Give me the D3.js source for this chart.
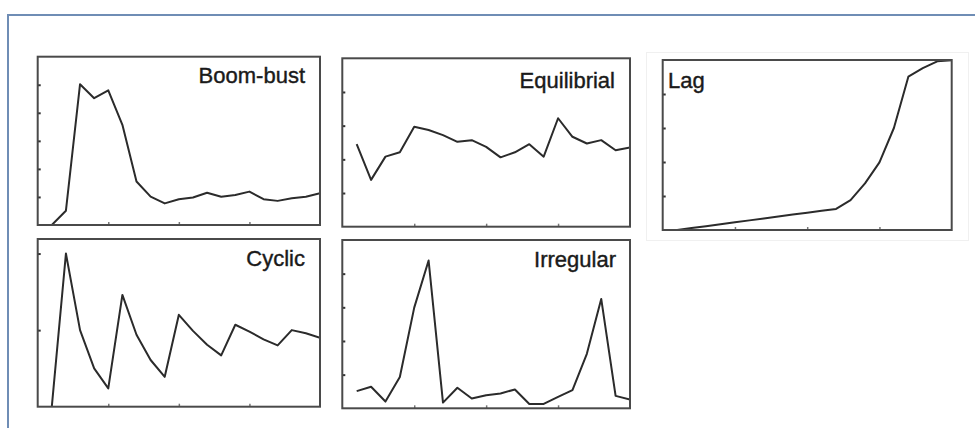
<!DOCTYPE html>
<html><head><meta charset="utf-8">
<script src="https://cdn.jsdelivr.net/npm/d3@7"></script>
<style>body{margin:0;background:#fff}svg{display:block}</style>
</head><body>
<script>
const xIndex = d3.range(1, 21);
const boomBust = [0, 0.51, 5.02, 4.52, 4.8, 3.57, 1.55, 1.01, 0.77, 0.92, 0.98, 1.15, 1.01, 1.07, 1.19, 0.92, 0.86, 0.95, 1.01, 1.13];
const equilibrial = [2.45, 1.39, 2.08, 2.21, 2.97, 2.87, 2.72, 2.52, 2.57, 2.37, 2.06, 2.21, 2.45, 2.08, 3.22, 2.67, 2.47, 2.57, 2.27, 2.35];
const lag = [0, 0.056, 0.113, 0.17, 0.226, 0.283, 0.34, 0.396, 0.453, 0.51, 0.566, 0.62, 0.88, 1.37, 1.99, 3.0, 4.51, 4.76, 4.96, 4.99];
const cyclic = [0, 2.0, 1.0, 0.5, 0.24, 1.46, 0.94, 0.61, 0.39, 1.2, 0.99, 0.81, 0.67, 1.07, 0.98, 0.88, 0.8, 1.0, 0.96, 0.9];
const irregular = [0.51, 0.64, 0.2, 0.93, 2.99, 4.39, 0.17, 0.61, 0.29, 0.39, 0.44, 0.56, 0.13, 0.13, 0.34, 0.54, 1.62, 3.25, 0.37, 0.26];
const panelNames = ["Boom-bust", "Equilibrial", "Lag", "Cyclic", "Irregular"];
const xTicks = [5, 10, 15];
const yTicksPerPanel = [[1,2,3,4,5],[1,2,3,4],[1,2,3,4],[1,2],[1,2,3,4]];
const yMax = [6, 5, 5, 2.19, 5];

const W = 975, H = 428;
const svg = d3.select("body").append("svg").attr("width", W).attr("height", H);

// outer frame (top and left edges only)
svg.append("line").attr("x1", 8).attr("x2", W).attr("y1", 15).attr("y2", 15)
  .attr("stroke", "#6f8db5").attr("stroke-width", 2);
svg.append("line").attr("x1", 8).attr("x2", 8).attr("y1", 14).attr("y2", H)
  .attr("stroke", "#6f8db5").attr("stroke-width", 2);
// faint frame around the Lag panel
svg.append("rect").attr("x", 646.5).attr("y", 52.5).attr("width", 322).attr("height", 188)
  .attr("fill", "none").attr("stroke", "#f0f0f0").attr("stroke-width", 1);

const boxes = [
  {x0: 37.7, x1: 320, y0: 56.7, y1: 225, lx: 305, ly: 83, anchor: "end"},
  {x0: 342.3, x1: 630, y0: 58.3, y1: 226.7, lx: 615, ly: 88, anchor: "end"},
  {x0: 662.7, x1: 951.7, y0: 60, y1: 230, lx: 668, ly: 88, anchor: "start"},
  {x0: 37.7, x1: 320, y0: 239, y1: 406.7, lx: 305, ly: 265.5, anchor: "end"},
  {x0: 342.3, x1: 630, y0: 240, y1: 408.3, lx: 616, ly: 267, anchor: "end"}
];
const series = [boomBust, equilibrial, lag, cyclic, irregular];

boxes.forEach((b, i) => {
  const x = d3.scaleLinear().domain([0, 20]).range([b.x0, b.x1]);
  const y = d3.scaleLinear().domain([0, yMax[i]]).range([b.y1, b.y0]);
  const g = svg.append("g");
  const clipId = "clip" + i;
  g.append("clipPath").attr("id", clipId).append("rect")
    .attr("x", b.x0).attr("y", b.y0).attr("width", b.x1 - b.x0).attr("height", b.y1 - b.y0);

  g.append("rect").attr("x", b.x0).attr("y", b.y0).attr("width", b.x1 - b.x0).attr("height", b.y1 - b.y0)
    .attr("fill", "#fff");

  const yAxis = d3.axisLeft(y).tickValues(yTicksPerPanel[i]).tickSize(-3).tickFormat("");
  g.append("g").attr("transform", `translate(${b.x0},0)`).call(yAxis)
    .call(s => { s.select(".domain").remove(); s.selectAll("line").attr("stroke", "#333").attr("stroke-width", 2); });
  const xAxis = d3.axisBottom(x).tickValues(xTicks).tickSize(-3).tickFormat("");
  g.append("g").attr("transform", `translate(0,${b.y1})`).call(xAxis)
    .call(s => { s.select(".domain").remove(); s.selectAll("line").attr("stroke", "#777").attr("stroke-width", 1.5); });

  const line = d3.line().x((d, k) => x(xIndex[k])).y(d => y(d));
  g.append("path").datum(series[i]).attr("d", line).attr("fill", "none")
    .attr("stroke", "#2b2b2b").attr("stroke-width", 2).attr("stroke-linejoin", "round")
    .attr("clip-path", `url(#${clipId})`);

  g.append("rect").attr("x", b.x0).attr("y", b.y0).attr("width", b.x1 - b.x0).attr("height", b.y1 - b.y0)
    .attr("fill", "none").attr("stroke", "#4a4a4a").attr("stroke-width", 2);

  g.append("text").attr("x", b.lx).attr("y", b.ly).attr("text-anchor", b.anchor)
    .attr("font-family", "Liberation Sans, Arial, sans-serif").attr("font-size", 22)
    .attr("fill", "#1a1a1a").attr("stroke", "#1a1a1a").attr("stroke-width", 0.4)
    .text(panelNames[i]);
});
</script>
</body></html>
